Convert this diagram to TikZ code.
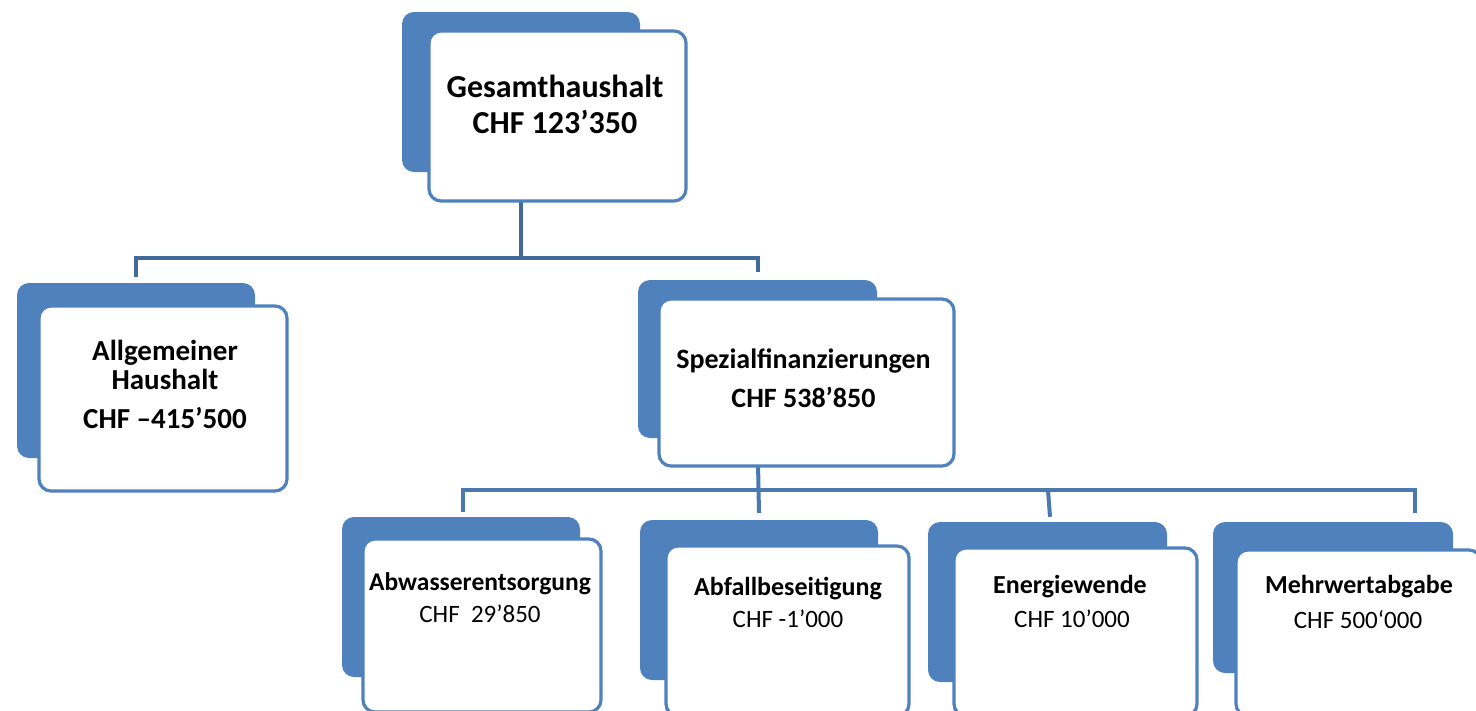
\documentclass[tikz,border=0pt]{standalone}
\usepackage{fontspec}
\setmainfont{Carlito}
\definecolor{boxblue}{HTML}{4F81BD}
\definecolor{lineA}{HTML}{41699A}
\definecolor{lineB}{HTML}{4A78B0}
\tikzset{
  backbox/.style={fill=boxblue, draw=none, rounded corners=12pt, inner sep=0pt},
  frontbox/.style={fill=white, draw=boxblue, line width=3.2pt, rounded corners=12pt, inner sep=0pt},
  connA/.style={draw=lineA, line width=4pt},
  connB/.style={draw=lineB, line width=4pt},
  ttl/.style={anchor=base, inner sep=0pt, font=\bfseries\fontsize{#1}{#1}\selectfont},
  amt/.style={anchor=base, inner sep=0pt, font=\fontsize{#1}{#1}\selectfont},
}
\begin{document}
\begin{tikzpicture}[x=1pt,y=-1pt]
\useasboundingbox (0,0) rectangle (1476,710);

% back boxes
\node[backbox, minimum width=238pt, minimum height=160pt] (top-b) at (521,92) {};
\node[backbox, minimum width=238pt, minimum height=175pt] (allg-b) at (136,370.5) {};
\node[backbox, minimum width=239pt, minimum height=158pt] (spez-b) at (757.5,359) {};
\node[backbox, minimum width=238pt, minimum height=160pt] (abw-b) at (461,597) {};
\node[backbox, minimum width=238pt, minimum height=160pt] (abf-b) at (759,600) {};
\node[backbox, minimum width=239pt, minimum height=160pt] (ene-b) at (1047.5,602) {};
\node[backbox, minimum width=240pt, minimum height=151pt] (meh-b) at (1333,597.5) {};

% connectors
\coordinate (bus1) at (521,258);
\coordinate (bus2) at (759,490);
\draw[connA] (top-b.south) -- (bus1);
\draw[connA] (bus1) -| ([yshift=6pt]allg-b.north);
\draw[connA] (bus1) -| ([yshift=8pt]spez-b.north);
\draw[connB] (spez-b.south) -- ([yshift=7pt]abf-b.north);
\draw[connB] (bus2) -| ([yshift=5pt,xshift=2pt]abw-b.north);
\draw[connB] (bus2) -| ([xshift=82pt,yshift=9pt]meh-b.north);
\draw[connB] ([xshift=0.5pt]ene-b.north |- bus2) -- ([xshift=2.5pt,yshift=5pt]ene-b.north);

% front boxes
\node[frontbox, minimum width=257pt, minimum height=170pt] (top) at (557.5,116) {};
\node[frontbox, minimum width=248pt, minimum height=185pt] (allg) at (163,398.5) {};
\node[frontbox, minimum width=295pt, minimum height=167pt] (spez) at (806.5,382.5) {};
\node[frontbox, minimum width=238pt, minimum height=173pt] (abw) at (482,625.5) {};
\node[frontbox, minimum width=243pt, minimum height=170pt] (abf) at (787.5,631) {};
\node[frontbox, minimum width=243pt, minimum height=168pt] (ene) at (1075.5,632) {};
\node[frontbox, minimum width=245pt, minimum height=166pt] (meh) at (1358.5,633) {};

% texts
\node[ttl=32] (top-t1) at (555,97) {Gesamthaushalt};
\node[ttl=32] (top-t2) at (555,133) {CHF 123’350};
\node[ttl=29] (allg-t1) at (165,360.5) {Allgemeiner};
\node[ttl=29] (allg-t2) at (165,389.5) {Haushalt};
\node[ttl=29] (allg-t3) at (165,428) {CHF –415’500};
\node[ttl=28] (spez-t1) at (803.5,368) {Spezialfinanzierungen};
\node[ttl=28] (spez-t2) at (803.5,407) {CHF 538’850};
\node[ttl=25.5] (abw-t1) at (480,590) {Abwasserentsorgung};
\node[amt=25] (abw-t2) at (480,622) {CHF\ \ 29’850};
\node[ttl=26] (abf-t1) at (788,595) {Abfallbeseitigung};
\node[amt=25] (abf-t2) at (788,627) {CHF -1’000};
\node[ttl=26] (ene-t1) at (1070,593) {Energiewende};
\node[amt=25] (ene-t2) at (1072,627) {CHF 10’000};
\node[ttl=26] (meh-t1) at (1359,593) {Mehrwertabgabe};
\node[amt=25] (meh-t2) at (1358,628) {CHF 500‘000};
\end{tikzpicture}
\end{document}
